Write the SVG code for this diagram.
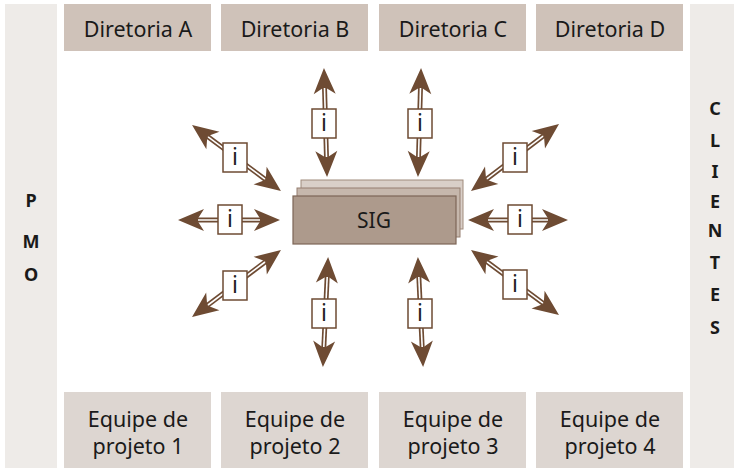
<svg xmlns="http://www.w3.org/2000/svg" width="734" height="469" viewBox="0 0 734 469">
<defs>
<style>
.side{fill:#eeebe8}
.top{fill:#cfc2b9}
.bot{fill:#ddd6d1}
.lbl{font-family:"Noto Sans","Open Sans","DejaVu Sans",sans-serif;font-size:21.5px;fill:#1a1a1a;text-anchor:middle}
.side-t{font-family:"Noto Sans","DejaVu Sans",sans-serif;font-size:18px;font-weight:bold;fill:#1a1a1a;text-anchor:middle}
.shaft{stroke:#6e4b33;stroke-width:5;fill:none;marker-start:url(#head);marker-end:url(#head)}
.inner{stroke:#fff;stroke-width:1.6;fill:none}
.ibox{fill:#fff;stroke:#6e4b33;stroke-width:1.5}
.itxt{font-family:"Noto Sans","DejaVu Sans",sans-serif;font-size:23px;fill:#222;text-anchor:middle}
</style>
<marker id="head" markerUnits="userSpaceOnUse" markerWidth="30" markerHeight="24" refX="7" refY="11" orient="auto-start-reverse" overflow="visible">
<path d="M26,11 L0,0 L7,11 L0,22 Z" fill="#6e4b33"/>
</marker>
</defs>
<rect width="734" height="469" fill="#fff"/>

<g id="pmo">
<rect class="side" x="5" y="4" width="52" height="464"/>
<text class="side-t" x="31" y="207">P</text>
<text class="side-t" x="31" y="248">M</text>
<text class="side-t" x="31" y="281">O</text>
</g>
<g id="clientes">
<rect class="side" x="690" y="4" width="44" height="464"/>
<text class="side-t" x="715" y="115">C</text>
<text class="side-t" x="715" y="147">L</text>
<text class="side-t" x="715" y="178">I</text>
<text class="side-t" x="715" y="208">E</text>
<text class="side-t" x="715" y="237">N</text>
<text class="side-t" x="715" y="269">T</text>
<text class="side-t" x="715" y="301">E</text>
<text class="side-t" x="715" y="334">S</text>
</g>

<g id="dirA"><rect class="top" x="64" y="4" width="147" height="47"/><text class="lbl" x="138" y="37">Diretoria A</text></g>
<g id="dirB"><rect class="top" x="221" y="4" width="147" height="47"/><text class="lbl" x="295" y="37">Diretoria B</text></g>
<g id="dirC"><rect class="top" x="379" y="4" width="147" height="47"/><text class="lbl" x="453" y="37">Diretoria C</text></g>
<g id="dirD"><rect class="top" x="536" y="4" width="147" height="47"/><text class="lbl" x="610" y="37">Diretoria D</text></g>

<g id="eq1"><rect class="bot" x="64" y="392" width="147" height="76"/><text class="lbl" x="138" y="427">Equipe de</text><text class="lbl" x="138" y="454">projeto 1</text></g>
<g id="eq2"><rect class="bot" x="221" y="392" width="147" height="76"/><text class="lbl" x="295" y="427">Equipe de</text><text class="lbl" x="295" y="454">projeto 2</text></g>
<g id="eq3"><rect class="bot" x="379" y="392" width="147" height="76"/><text class="lbl" x="453" y="427">Equipe de</text><text class="lbl" x="453" y="454">projeto 3</text></g>
<g id="eq4"><rect class="bot" x="536" y="392" width="147" height="76"/><text class="lbl" x="610" y="427">Equipe de</text><text class="lbl" x="610" y="454">projeto 4</text></g>

<g id="sig">
<rect x="301" y="180" width="162" height="49" fill="#d9cfc8" stroke="#a08b7d" stroke-width="1"/>
<rect x="297" y="188" width="163" height="49" fill="#c6b7ac" stroke="#957f70" stroke-width="1"/>
<rect x="293" y="196" width="163" height="48" fill="#ad9a8c" stroke="#7d6657" stroke-width="1.2"/>
<text x="374" y="228" style="font-family:'Noto Sans','DejaVu Sans',sans-serif;font-size:21px;fill:#1a1a1a;text-anchor:middle">SIG</text>
</g>

<g id="connectors">
<line class="shaft" x1="324.5" y1="87" x2="326.5" y2="158"/>
<line class="inner" x1="324.5" y1="88" x2="326.5" y2="157"/>
<line class="shaft" x1="420.5" y1="87" x2="418.5" y2="158"/>
<line class="inner" x1="420.5" y1="88" x2="418.5" y2="157"/>
<line class="shaft" x1="327.2" y1="276" x2="323.8" y2="348"/>
<line class="inner" x1="327.2" y1="277" x2="323.8" y2="347"/>
<line class="shaft" x1="418.8" y1="276" x2="422.2" y2="348"/>
<line class="inner" x1="418.8" y1="277" x2="422.2" y2="347"/>
<line class="shaft" x1="197" y1="220" x2="261" y2="220"/>
<line class="inner" x1="198" y1="220" x2="260" y2="220"/>
<line class="shaft" x1="487" y1="220" x2="549" y2="220"/>
<line class="inner" x1="488" y1="220" x2="548" y2="220"/>
<line class="shaft" x1="207.3" y1="136.3" x2="265.7" y2="179.7"/>
<line class="inner" x1="208.1" y1="136.9" x2="264.9" y2="179.1"/>
<line class="shaft" x1="207.2" y1="305.6" x2="265.8" y2="261.4"/>
<line class="inner" x1="208" y1="305" x2="265" y2="262"/>
<line class="shaft" x1="543.9" y1="135.5" x2="486.1" y2="179.5"/>
<line class="inner" x1="543.1" y1="136.1" x2="486.9" y2="178.9"/>
<line class="shaft" x1="486.3" y1="261.3" x2="543.7" y2="303.7"/>
<line class="inner" x1="487.1" y1="261.9" x2="542.9" y2="303.1"/>
</g>

<g id="i1"><rect class="ibox" x="312" y="109" width="24" height="29"/><text class="itxt" x="324" y="131">i</text></g>
<g id="i2"><rect class="ibox" x="408" y="109" width="24" height="29"/><text class="itxt" x="420" y="131">i</text></g>
<g id="i3"><rect class="ibox" x="312" y="299" width="24" height="29"/><text class="itxt" x="324" y="321">i</text></g>
<g id="i4"><rect class="ibox" x="408" y="299" width="24" height="29"/><text class="itxt" x="420" y="321">i</text></g>
<g id="i5"><rect class="ibox" x="218" y="205" width="24" height="29"/><text class="itxt" x="230" y="227">i</text></g>
<g id="i6"><rect class="ibox" x="508" y="205" width="24" height="29"/><text class="itxt" x="520" y="227">i</text></g>
<g id="i7"><rect class="ibox" x="223" y="143" width="24" height="29"/><text class="itxt" x="235" y="165">i</text></g>
<g id="i8"><rect class="ibox" x="223" y="271" width="24" height="29"/><text class="itxt" x="235" y="293">i</text></g>
<g id="i9"><rect class="ibox" x="503" y="143" width="24" height="29"/><text class="itxt" x="515" y="165">i</text></g>
<g id="i10"><rect class="ibox" x="503" y="270" width="24" height="29"/><text class="itxt" x="515" y="292">i</text></g>
</svg>
